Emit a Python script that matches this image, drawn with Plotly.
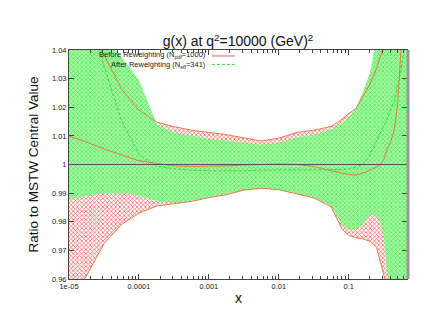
import plotly.graph_objects as go

# x grid (momentum fraction)
x = [1e-5, 1.8e-5, 3.2e-5, 5.6e-5, 1e-4, 1.8e-4, 3.2e-4, 5.6e-4, 1e-3, 1.8e-3,
     3.2e-3, 5.6e-3, 0.01, 0.018, 0.032, 0.056, 0.08, 0.1, 0.126, 0.16,
     0.2, 0.25, 0.28, 0.32, 0.355, 0.4, 0.45, 0.5, 0.56, 0.63, 0.68]

# Before reweighting (N_pdf=1000): central, upper, lower
before_central = [1.0099, 1.0078, 1.0054, 1.0033, 1.0013, 1.0004, 0.9995, 0.9993, 0.9993, 0.9995,
                  0.9998, 1.0000, 1.0002, 1.0000, 0.9993, 0.9978, 0.9970, 0.9965, 0.9963, 0.9970,
                  0.9980, 0.9993, 0.9998, 1.0020, 1.0055, 1.0080, 1.0125, 1.0210, 1.0380, 1.0600, 1.0750]
before_upper = [1.065, 1.050, 1.038, 1.0265, 1.019, 1.0148, 1.0132, 1.0120, 1.0112, 1.0104,
                1.0093, 1.0082, 1.0092, 1.0112, 1.0120, 1.0133, 1.0158, 1.0178, 1.0195, 1.0238,
                1.028, 1.0337, 1.037, 1.041, 1.045, 1.050, 1.055, 1.060, 1.065, 1.070, 1.075]
before_lower = [0.950, 0.9615, 0.9725, 0.9790, 0.9830, 0.9855, 0.9863, 0.9871, 0.9884, 0.9895,
                0.9911, 0.9917, 0.9912, 0.9898, 0.9883, 0.9852, 0.9775, 0.9752, 0.9744, 0.9740,
                0.9732, 0.9710, 0.9666, 0.9610, 0.9520, 0.9400, 0.9300, 0.9250, 0.9200, 0.9150, 0.9150]

# After reweighting (N_eff=341): central, upper, lower
after_central = [1.075, 1.056, 1.034, 1.0155, 1.0035, 0.9995, 0.9985, 0.9980, 0.9978, 0.9977,
                 0.9978, 0.9980, 0.9980, 0.9980, 0.9980, 0.9980, 0.9982, 0.9985, 0.9992, 1.0000,
                 1.0033, 1.0085, 1.0110, 1.0138, 1.0160, 1.0190, 1.0225, 1.0280, 1.0330, 1.0420, 1.0500]
after_upper = [1.070, 1.055, 1.044, 1.0376, 1.0295, 1.0141, 1.0112, 1.0100, 1.0090, 1.0083,
               1.0075, 1.0069, 1.0076, 1.0094, 1.0103, 1.0122, 1.0145, 1.0165, 1.0195, 1.0255,
               1.032, 1.043, 1.050, 1.060, 1.070, 1.080, 1.100, 1.120, 1.140, 1.160, 1.180]
after_lower = [0.9879, 0.9890, 0.9900, 0.9900, 0.9893, 0.9872, 0.9866, 0.9873, 0.9885, 0.9896,
               0.9910, 0.9915, 0.9913, 0.9900, 0.9885, 0.9855, 0.9790, 0.9772, 0.9773, 0.9790,
               0.9825, 0.9818, 0.9800, 0.9740, 0.9600, 0.9450, 0.9350, 0.9300, 0.9250, 0.9200, 0.9200]

x_tickvals = [1e-5, 1e-4, 1e-3, 1e-2, 1e-1]
x_ticktext = ["1e-05", "0.0001", "0.001", "0.01", "0.1"]
y_tickvals = [0.96, 0.97, 0.98, 0.99, 1.0, 1.01, 1.02, 1.03, 1.04]
y_ticktext = ["0.96", "0.97", "0.98", "0.99", "1", "1.01", "1.02", "1.03", "1.04"]

EDGE = "rgb(225,115,55)"
FONT = "Liberation Sans, Arial, sans-serif"

fig = go.Figure()

# before reweighting band (red cross hatch)
fig.add_trace(go.Scatter(x=x, y=before_lower, mode="lines", line=dict(width=0), hoverinfo="skip"))
fig.add_trace(
    go.Scatter(
        x=x, y=before_upper, mode="lines", line=dict(width=0), fill="tonexty",
        fillcolor="rgba(255,255,255,0)",
        fillpattern=dict(shape="x", fgcolor="rgba(255,60,60,0.9)", bgcolor="rgba(255,255,255,0)",
                         size=3, solidity=0.4, fillmode="replace"),
    )
)

# after reweighting band (green)
fig.add_trace(go.Scatter(x=x, y=after_lower, mode="lines", line=dict(width=0), hoverinfo="skip"))
fig.add_trace(
    go.Scatter(
        x=x, y=after_upper, mode="lines", line=dict(width=0), fill="tonexty",
        fillcolor="rgb(150,246,150)",
        fillpattern=dict(shape="x", fgcolor="rgb(85,232,85)", bgcolor="rgb(168,249,168)",
                         size=3, solidity=0.45, fillmode="replace"),
    )
)

# edges of the before band and central values
for ys in [before_upper, before_lower, before_central]:
    fig.add_trace(go.Scatter(x=x, y=ys, mode="lines", line=dict(color=EDGE, width=0.9)))
fig.add_trace(
    go.Scatter(x=x, y=after_central, mode="lines",
               line=dict(color="rgb(45,210,45)", width=0.9, dash="3px,2px"))
)

# the page body has an 8px margin, so margins are shifted to compensate
fig.update_layout(
    width=434,
    height=335,
    margin=dict(l=61, r=35, t=42, b=64),
    paper_bgcolor="white",
    plot_bgcolor="white",
    showlegend=False,
    font=dict(family=FONT, color="#222"),
    title=dict(
        text="g(x) at q<sup>2</sup>=10000 (GeV)<sup>2</sup>",
        x=0.5, xref="paper", y=0.9, yref="container", yanchor="middle",
        font=dict(size=14, color="#111"),
    ),
    xaxis=dict(
        type="log", range=[-5, -0.1675],
        tickvals=x_tickvals, ticktext=x_ticktext,
        ticks="inside", ticklen=5, tickcolor="#444",
        minor=dict(ticks="inside", ticklen=3, dtick="D1", tickcolor="#444", showgrid=False),
        showline=True, linecolor="#444", linewidth=1, mirror="allticks",
        showgrid=False, zeroline=False, tickfont=dict(size=7.5),
    ),
    yaxis=dict(
        range=[0.96, 1.04],
        tickvals=y_tickvals, ticktext=y_ticktext,
        ticks="inside", ticklen=5, tickcolor="#444",
        showline=True, linecolor="#444", linewidth=1, mirror="allticks",
        showgrid=False, zeroline=False, tickfont=dict(size=7.5),
    ),
    annotations=[
        dict(text="Ratio to MSTW Central Value", xref="paper", yref="paper", x=-0.1036, y=0.5,
             textangle=-90, showarrow=False, xanchor="center", yanchor="middle",
             font=dict(size=13.5, color="#111")),
        dict(text="x", xref="paper", yref="paper", x=0.5, y=-0.083, showarrow=False,
             xanchor="center", yanchor="middle", font=dict(size=14, color="#111")),
        dict(text="Before Reweighting (N<sub>pdf</sub>=1000)", xref="paper", yref="paper",
             x=0.411, y=0.976, showarrow=False, xanchor="right", yanchor="middle",
             font=dict(size=7.5, color="#222")),
        dict(text="After Reweighting (N<sub>eff</sub>=341)", xref="paper", yref="paper",
             x=0.411, y=0.935, showarrow=False, xanchor="right", yanchor="middle",
             font=dict(size=7.5, color="#222")),
    ],
    shapes=[
        dict(type="line", xref="paper", yref="y", x0=0, x1=1, y0=1.0, y1=1.0,
             line=dict(color="#555", width=1), layer="above"),
        dict(type="line", xref="paper", yref="paper", x0=1.003, x1=1.003, y0=0, y1=1,
             line=dict(color="#999", width=3), layer="above"),
        dict(type="line", xref="paper", yref="paper", x0=0.423, x1=0.491, y0=0.974, y1=0.974,
             line=dict(color="rgb(240,90,90)", width=1)),
        dict(type="line", xref="paper", yref="paper", x0=0.423, x1=0.491, y0=0.937, y1=0.937,
             line=dict(color="rgb(60,220,60)", width=1, dash="3px,2px")),
    ],
)

fig.write_html("out.html")
